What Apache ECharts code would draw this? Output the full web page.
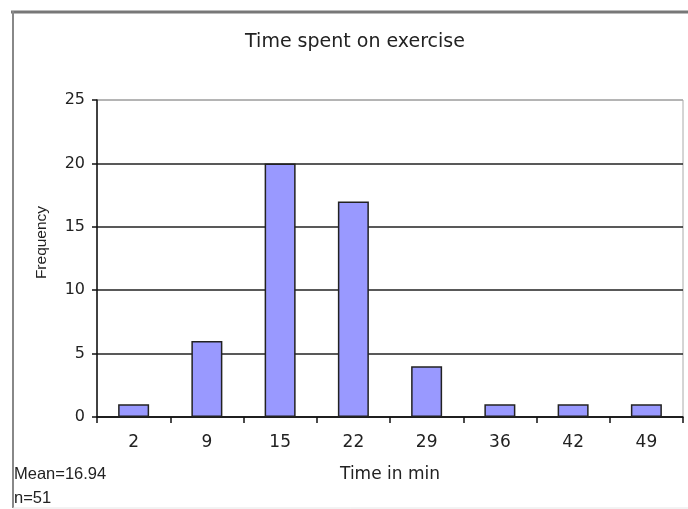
<!DOCTYPE html>
<html>
<head>
<meta charset="utf-8">
<script src="https://cdn.jsdelivr.net/npm/echarts@6/dist/echarts.min.js"></script>
<style>
html,body{margin:0;padding:0;background:#fff;}
#chart{width:688px;height:509px;}
</style>
</head>
<body>
<div id="chart"></div>
<script>
const titleText = 'Time spent on exercise';
const categories = ['2', '9', '15', '22', '29', '36', '42', '49'];
const frequency = [1, 6, 20, 17, 4, 1, 1, 1];
const yTicks = [0, 5, 10, 15, 20, 25];
const xName = 'Time in min';
const yName = 'Frequency';
const notes = ['Mean=16.94', 'n=51'];

const wide = 'DejaVu Sans';
const narrow = 'Liberation Sans';
const txt = '#222';
const chart = echarts.init(document.getElementById('chart'), null, {renderer: 'canvas'});
chart.setOption({
  animation: false,
  backgroundColor: '#fff',
  title: {
    text: titleText, left: 350, top: 28, textAlign: 'center',
    textStyle: {fontFamily: wide, fontSize: 19, fontWeight: 'normal', color: txt}
  },
  graphic: [
    {type: 'line', shape: {x1: 11, y1: 12, x2: 688, y2: 12}, style: {stroke: '#777', lineWidth: 3}},
    {type: 'line', shape: {x1: 13, y1: 11, x2: 13, y2: 508}, style: {stroke: '#888', lineWidth: 2}},
    {type: 'line', shape: {x1: 13, y1: 508, x2: 688, y2: 508}, style: {stroke: '#e6e6e6', lineWidth: 1}},
    {type: 'text', left: 14, top: 462, style: {text: notes.join('\n'), fontFamily: narrow, fontSize: 16.5, lineHeight: 24, fill: txt}}
  ],
  grid: {left: 97, right: 5, top: 100, bottom: 92, show: true, borderColor: '#aaa', borderWidth: 1},
  xAxis: {
    type: 'category', data: categories,
    name: xName, nameLocation: 'middle', nameGap: 49,
    nameTextStyle: {fontFamily: wide, fontSize: 17, color: txt},
    axisLine: {lineStyle: {color: '#111', width: 1.5}},
    axisTick: {show: true, length: 6, lineStyle: {color: '#111', width: 1.5}},
    axisLabel: {margin: 17, fontFamily: wide, fontSize: 17, color: txt}
  },
  yAxis: {
    type: 'value', min: yTicks[0], max: yTicks[yTicks.length - 1], interval: 5,
    name: yName, nameLocation: 'middle', nameGap: 47,
    nameTextStyle: {fontFamily: narrow, fontSize: 15.5, color: txt, padding: [0, 0, 0, 32]},
    axisLine: {show: true, lineStyle: {color: '#111', width: 1.5}},
    axisTick: {show: true, length: 5, lineStyle: {color: '#111', width: 1.5}},
    axisLabel: {margin: 12, fontFamily: wide, fontSize: 16, color: txt},
    splitLine: {show: true, lineStyle: {color: ['#222', '#222', '#222', '#222', '#222', '#aaa'], width: 1.5}}
  },
  series: [{
    type: 'bar', data: frequency, barWidth: 31,
    itemStyle: {color: '#9999ff', borderColor: '#222', borderWidth: 1.5}
  }]
});
</script>
</body>
</html>
